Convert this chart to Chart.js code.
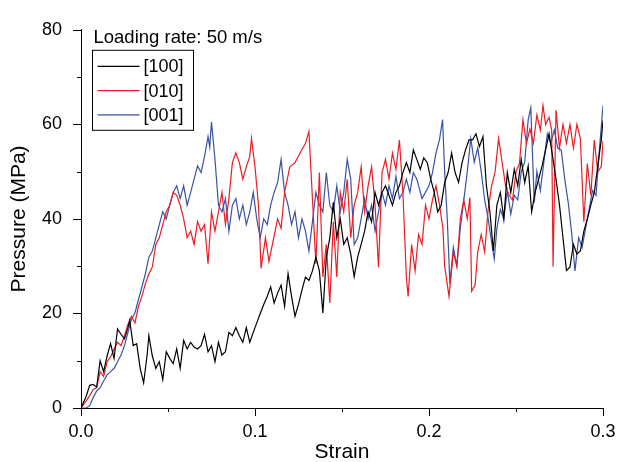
<!DOCTYPE html>
<html>
<head>
<meta charset="utf-8">
<script src="https://cdn.jsdelivr.net/npm/chart.js@4.4.1/dist/chart.umd.min.js"></script>
<style>
  html, body { margin: 0; padding: 0; background: #fff; }
</style>
</head>
<body>
<canvas id="chart" width="617" height="462"></canvas>
<script>
const FONT = "'Liberation Sans', Arial, Helvetica, sans-serif";

// [100]
const strain100 = [0, 0.003, 0.005, 0.007, 0.009, 0.011, 0.013, 0.015, 0.017, 0.019, 0.021, 0.023, 0.025, 0.027, 0.028, 0.030, 0.032, 0.034, 0.036, 0.038, 0.039, 0.041, 0.043, 0.045, 0.047, 0.049, 0.051, 0.053, 0.055, 0.057, 0.059, 0.061, 0.063, 0.065, 0.067, 0.069, 0.071, 0.073, 0.075, 0.077, 0.079, 0.081, 0.083, 0.085, 0.087, 0.089, 0.091, 0.093, 0.095, 0.097, 0.099, 0.101, 0.103, 0.105, 0.107, 0.109, 0.111, 0.113, 0.115, 0.117, 0.119, 0.121, 0.123, 0.125, 0.127, 0.129, 0.131, 0.133, 0.135, 0.137, 0.139, 0.141, 0.143, 0.145, 0.147, 0.149, 0.151, 0.153, 0.155, 0.157, 0.159, 0.161, 0.163, 0.165, 0.167, 0.169, 0.171, 0.173, 0.175, 0.177, 0.179, 0.181, 0.183, 0.185, 0.187, 0.189, 0.191, 0.193, 0.195, 0.197, 0.199, 0.201, 0.203, 0.205, 0.207, 0.209, 0.211, 0.213, 0.215, 0.217, 0.219, 0.221, 0.223, 0.225, 0.227, 0.229, 0.231, 0.233, 0.235, 0.237, 0.239, 0.241, 0.243, 0.245, 0.247, 0.249, 0.251, 0.253, 0.255, 0.257, 0.259, 0.261, 0.263, 0.265, 0.267, 0.269, 0.271, 0.273, 0.275, 0.277, 0.279, 0.281, 0.283, 0.285, 0.287, 0.289, 0.291, 0.293, 0.295, 0.297, 0.299, 0.300];
const pressure100 = [0, 2.5, 4.8, 5, 4.4, 10, 7.7, 11, 13.6, 10.5, 16.7, 15.6, 14.6, 17, 18.5, 13.2, 13.6, 8.4, 5.3, 11.2, 15.3, 11, 8.4, 9.8, 6, 11.9, 10.5, 9.4, 12.5, 8.4, 14.3, 12.5, 13.9, 12.9, 12.5, 13.2, 15.6, 11.9, 13.2, 9.8, 13.9, 11.2, 11.9, 16, 15.3, 17, 15.3, 13.9, 17, 13.9, 16, 18, 20, 21.9, 23.6, 25.6, 22.2, 24.3, 26, 21.5, 28.4, 23.6, 19.4, 21.9, 25, 27.7, 27, 29, 31.9, 29, 20.1, 31.9, 36, 43.5, 36, 40, 34.6, 36, 32.6, 27.8, 31.9, 34.6, 37.4, 41.5, 39.4, 45.6, 42.9, 45.6, 47, 45, 42.9, 45.6, 47, 49.8, 51.9, 49.8, 54.6, 52.6, 50.5, 52.9, 51.9, 48.4, 45.6, 41.5, 42.9, 47.7, 49.8, 53.9, 49.8, 47.7, 51.9, 54.6, 56.7, 56.7, 58, 55.3, 57.4, 47, 41.5, 33.2, 42.9, 45.6, 40, 49.8, 45.6, 50.5, 47, 52.6, 47.7, 51.2, 41.5, 45.6, 48.4, 51.2, 54.6, 58, 53.3, 48.4, 42.9, 36, 29.1, 29.8, 34.6, 32.6, 33.2, 37.4, 40, 42.9, 45.6, 51.2, 56.7, 60.8];

// [010]
const strain010 = [0, 0.003, 0.005, 0.007, 0.009, 0.011, 0.013, 0.015, 0.017, 0.019, 0.021, 0.023, 0.025, 0.027, 0.029, 0.031, 0.033, 0.035, 0.037, 0.039, 0.041, 0.043, 0.045, 0.047, 0.049, 0.051, 0.053, 0.055, 0.057, 0.059, 0.061, 0.063, 0.065, 0.067, 0.069, 0.071, 0.073, 0.075, 0.077, 0.079, 0.081, 0.083, 0.085, 0.087, 0.089, 0.091, 0.093, 0.095, 0.097, 0.098, 0.100, 0.102, 0.1035, 0.106, 0.108, 0.110, 0.113, 0.115, 0.117, 0.120, 0.123, 0.126, 0.129, 0.131, 0.133, 0.135, 0.137, 0.139, 0.141, 0.143, 0.145, 0.147, 0.149, 0.151, 0.153, 0.155, 0.157, 0.159, 0.161, 0.163, 0.165, 0.167, 0.169, 0.171, 0.173, 0.175, 0.177, 0.179, 0.181, 0.183, 0.185, 0.187, 0.188, 0.190, 0.192, 0.194, 0.196, 0.198, 0.200, 0.202, 0.204, 0.206, 0.208, 0.209, 0.2115, 0.214, 0.216, 0.218, 0.220, 0.222, 0.2235, 0.2245, 0.2265, 0.228, 0.230, 0.232, 0.234, 0.236, 0.238, 0.240, 0.242, 0.244, 0.246, 0.248, 0.250, 0.252, 0.254, 0.256, 0.258, 0.260, 0.262, 0.264, 0.2655, 0.267, 0.269, 0.2705, 0.2713, 0.273, 0.275, 0.277, 0.279, 0.281, 0.283, 0.285, 0.287, 0.289, 0.291, 0.293, 0.295, 0.297, 0.299, 0.300];
const pressure010 = [0, 1.5, 2.6, 3.9, 4.3, 7.7, 6.7, 9.8, 10.8, 12.5, 13.9, 13.2, 15.3, 17.7, 19.4, 18, 21.5, 23.6, 26.3, 28.4, 29.8, 34.6, 36, 38.8, 41.5, 42.9, 45.6, 45, 42.9, 40, 36, 37.4, 34.6, 39.4, 37.4, 38.8, 30.5, 41.5, 37.4, 41.5, 45.6, 38.8, 44.3, 51.9, 54, 51.9, 48.4, 51, 53.2, 57, 51, 42.9, 29.5, 36, 31, 34.6, 40, 38, 45.6, 51, 51.9, 54, 56, 58.5, 44.3, 30.5, 49.8, 27.7, 34.6, 22.2, 39.4, 27.7, 45.6, 41.5, 48.4, 36, 42.9, 45.6, 51, 41.5, 47, 51, 42.9, 29.8, 49.8, 52.6, 48.4, 53.9, 50.5, 56.7, 45.6, 27.7, 23.6, 34.6, 29, 36.7, 34.6, 42.9, 40, 44, 47, 43, 38, 30, 23.6, 33, 30, 40, 44, 40, 44.5, 24.7, 26, 33, 36.7, 33, 42, 47, 50, 57, 52, 47, 45, 44, 50, 51.7, 61, 56, 59, 56, 62, 58.8, 64, 60, 61.5, 58.8, 29.9, 63, 55, 60, 56, 60, 55, 60, 57, 39.4, 51.7, 45, 56.7, 50, 51, 56.5];

// [001]
const strain001 = [0, 0.003, 0.005, 0.007, 0.009, 0.011, 0.013, 0.015, 0.017, 0.019, 0.021, 0.023, 0.025, 0.027, 0.029, 0.031, 0.033, 0.035, 0.037, 0.039, 0.041, 0.043, 0.045, 0.047, 0.049, 0.051, 0.053, 0.055, 0.057, 0.059, 0.061, 0.063, 0.065, 0.067, 0.069, 0.071, 0.073, 0.074, 0.075, 0.077, 0.079, 0.081, 0.083, 0.085, 0.087, 0.089, 0.091, 0.093, 0.095, 0.097, 0.099, 0.101, 0.103, 0.105, 0.107, 0.109, 0.111, 0.113, 0.115, 0.117, 0.119, 0.121, 0.123, 0.125, 0.127, 0.129, 0.131, 0.133, 0.135, 0.137, 0.139, 0.141, 0.143, 0.145, 0.147, 0.149, 0.151, 0.153, 0.155, 0.157, 0.159, 0.161, 0.163, 0.165, 0.167, 0.169, 0.171, 0.173, 0.175, 0.177, 0.179, 0.181, 0.183, 0.185, 0.187, 0.189, 0.191, 0.193, 0.196, 0.200, 0.202, 0.204, 0.206, 0.2078, 0.209, 0.2105, 0.212, 0.214, 0.216, 0.218, 0.220, 0.222, 0.224, 0.226, 0.228, 0.230, 0.232, 0.234, 0.236, 0.2375, 0.239, 0.241, 0.243, 0.245, 0.247, 0.249, 0.251, 0.253, 0.255, 0.257, 0.2585, 0.2605, 0.262, 0.264, 0.266, 0.268, 0.270, 0.272, 0.274, 0.276, 0.278, 0.280, 0.282, 0.2839, 0.286, 0.288, 0.290, 0.292, 0.294, 0.296, 0.298, 0.300];
const pressure001 = [0, 0, 0.5, 2.2, 3.6, 4.3, 5.7, 7, 7.7, 8.4, 9.8, 11.2, 13.2, 16, 18.8, 20.1, 22.9, 25.6, 28.4, 31.9, 33.2, 36, 38.8, 41.5, 40, 42.9, 45.6, 47, 44.3, 47, 42.9, 45.6, 48.4, 51.2, 49.8, 53.2, 57.4, 55.2, 60.5, 52.6, 42.9, 41.5, 44.3, 37.4, 42.9, 44.3, 40, 42.9, 38.8, 41.5, 45.6, 40, 36, 40, 38.8, 42.9, 45.6, 47.7, 52.6, 45.6, 42.9, 38.8, 41.5, 36, 40, 37.4, 33.2, 39.4, 45.6, 42.9, 41.5, 49.8, 42.9, 41.5, 47, 41.5, 45.6, 52.6, 48.4, 34.6, 36, 40, 44.3, 40, 42.9, 37.4, 41.5, 45.6, 42.9, 47, 44.3, 49, 44.3, 45.6, 48.4, 45.6, 49.8, 48.4, 44.3, 47, 49.8, 53.9, 56.7, 61, 50, 40, 26.3, 34, 30, 38, 44, 50, 57, 52, 55, 50, 44, 40, 35, 31.5, 38, 42, 40, 46, 41, 45, 44, 50, 52, 61, 63.5, 43.5, 50, 46, 52, 58, 56, 58.8, 55, 54.6, 48.4, 43.5, 37, 29, 36, 34, 38, 42, 46, 45, 55, 64];

const seriesLabels = ['[100]', '[010]', '[001]'];
const seriesColors = ['#000000', '#ed1c24', '#3953a4'];
const yTicks = [0, 10, 20, 30, 40, 50, 60, 70, 80];
const xTicks = [0, 0.05, 0.1, 0.15, 0.2, 0.25, 0.3];

const toPoints = (xs, ys) => xs.map((x, i) => ({ x, y: ys[i] }));

// major + minor tick marks, drawn outside the axes
const tickMarks = {
  id: 'tickMarks',
  afterDraw(chart) {
    const { ctx, chartArea, scales } = chart;
    ctx.save();
    ctx.strokeStyle = '#000';
    ctx.lineWidth = 1;
    ctx.beginPath();
    yTicks.forEach(v => {
      const y = Math.round(scales.y.getPixelForValue(v)) + 0.5;
      const len = v % 20 === 0 ? 8 : 4;
      ctx.moveTo(chartArea.left - len, y);
      ctx.lineTo(chartArea.left, y);
    });
    xTicks.forEach(v => {
      const x = Math.round(scales.x.getPixelForValue(v)) + 0.5;
      const len = Math.abs(v * 10 - Math.round(v * 10)) < 1e-6 ? 8 : 4;
      ctx.moveTo(x, chartArea.bottom);
      ctx.lineTo(x, chartArea.bottom + len);
    });
    ctx.stroke();
    ctx.restore();
  },
};

// boxed legend plus the loading-rate note
const boxLegend = {
  id: 'boxLegend',
  afterDraw(chart) {
    const { ctx, chartArea } = chart;
    const left = chartArea.left + 11.5;
    const top = chartArea.top + 20.5;
    ctx.save();
    ctx.fillStyle = '#000';
    ctx.font = `18.5px ${FONT}`;
    ctx.textBaseline = 'alphabetic';
    ctx.textAlign = 'left';
    ctx.fillText('Loading rate: 50 m/s', left + 1, chartArea.top + 13.5);

    ctx.fillStyle = '#fff';
    ctx.fillRect(left, top, 101, 80);
    ctx.strokeStyle = '#000';
    ctx.lineWidth = 1;
    ctx.strokeRect(left, top, 101, 80);

    ctx.font = `18px ${FONT}`;
    ctx.textBaseline = 'middle';
    chart.data.datasets.forEach((ds, i) => {
      const y = top + 16 + i * 24.3;
      ctx.strokeStyle = ds.borderColor;
      ctx.lineWidth = 1.3;
      ctx.beginPath();
      ctx.moveTo(left + 5, y);
      ctx.lineTo(left + 47, y);
      ctx.stroke();
      ctx.fillStyle = '#000';
      ctx.fillText(ds.label, left + 51, y + 1);
    });
    ctx.restore();
  },
};

new Chart(document.getElementById('chart'), {
  type: 'line',
  data: {
    datasets: [
      { label: seriesLabels[0], data: toPoints(strain100, pressure100), borderColor: seriesColors[0] },
      { label: seriesLabels[1], data: toPoints(strain010, pressure010), borderColor: seriesColors[1] },
      { label: seriesLabels[2], data: toPoints(strain001, pressure001), borderColor: seriesColors[2] },
    ],
  },
  options: {
    responsive: false,
    animation: false,
    layout: { padding: { left: 0, right: 14, top: 21, bottom: 0 } },
    elements: {
      point: { radius: 0 },
      line: { borderWidth: 1.2, tension: 0 },
    },
    plugins: {
      legend: { display: false },
      tooltip: { enabled: false },
    },
    scales: {
      x: {
        type: 'linear',
        min: 0, max: 0.3,
        afterFit: (scale) => {
          scale.height = 54;
          scale.paddingLeft = 0;
          scale.paddingRight = 0;
        },
        grid: { display: false, drawTicks: false },
        border: { display: true, color: '#000', width: 1 },
        ticks: {
          stepSize: 0.1,
          padding: 13,
          color: '#000',
          font: { family: FONT, size: 18 },
          callback: (v) => Number(v).toFixed(1),
        },
        title: {
          display: true,
          text: 'Strain',
          color: '#000',
          font: { family: FONT, size: 21, lineHeight: 1 },
          padding: { top: 0, bottom: -1 },
        },
      },
      y: {
        min: 0, max: 80,
        afterFit: (scale) => { scale.width = 81; },
        grid: { display: false, drawTicks: false },
        border: { display: true, color: '#000', width: 1 },
        ticks: {
          stepSize: 20,
          padding: 19,
          color: '#000',
          font: { family: FONT, size: 18 },
        },
        title: {
          display: true,
          text: 'Pressure (MPa)',
          color: '#000',
          font: { family: FONT, size: 21, lineHeight: 1 },
          padding: { top: 9, bottom: 0 },
        },
      },
    },
  },
  plugins: [tickMarks, boxLegend],
});
</script>
</body>
</html>
